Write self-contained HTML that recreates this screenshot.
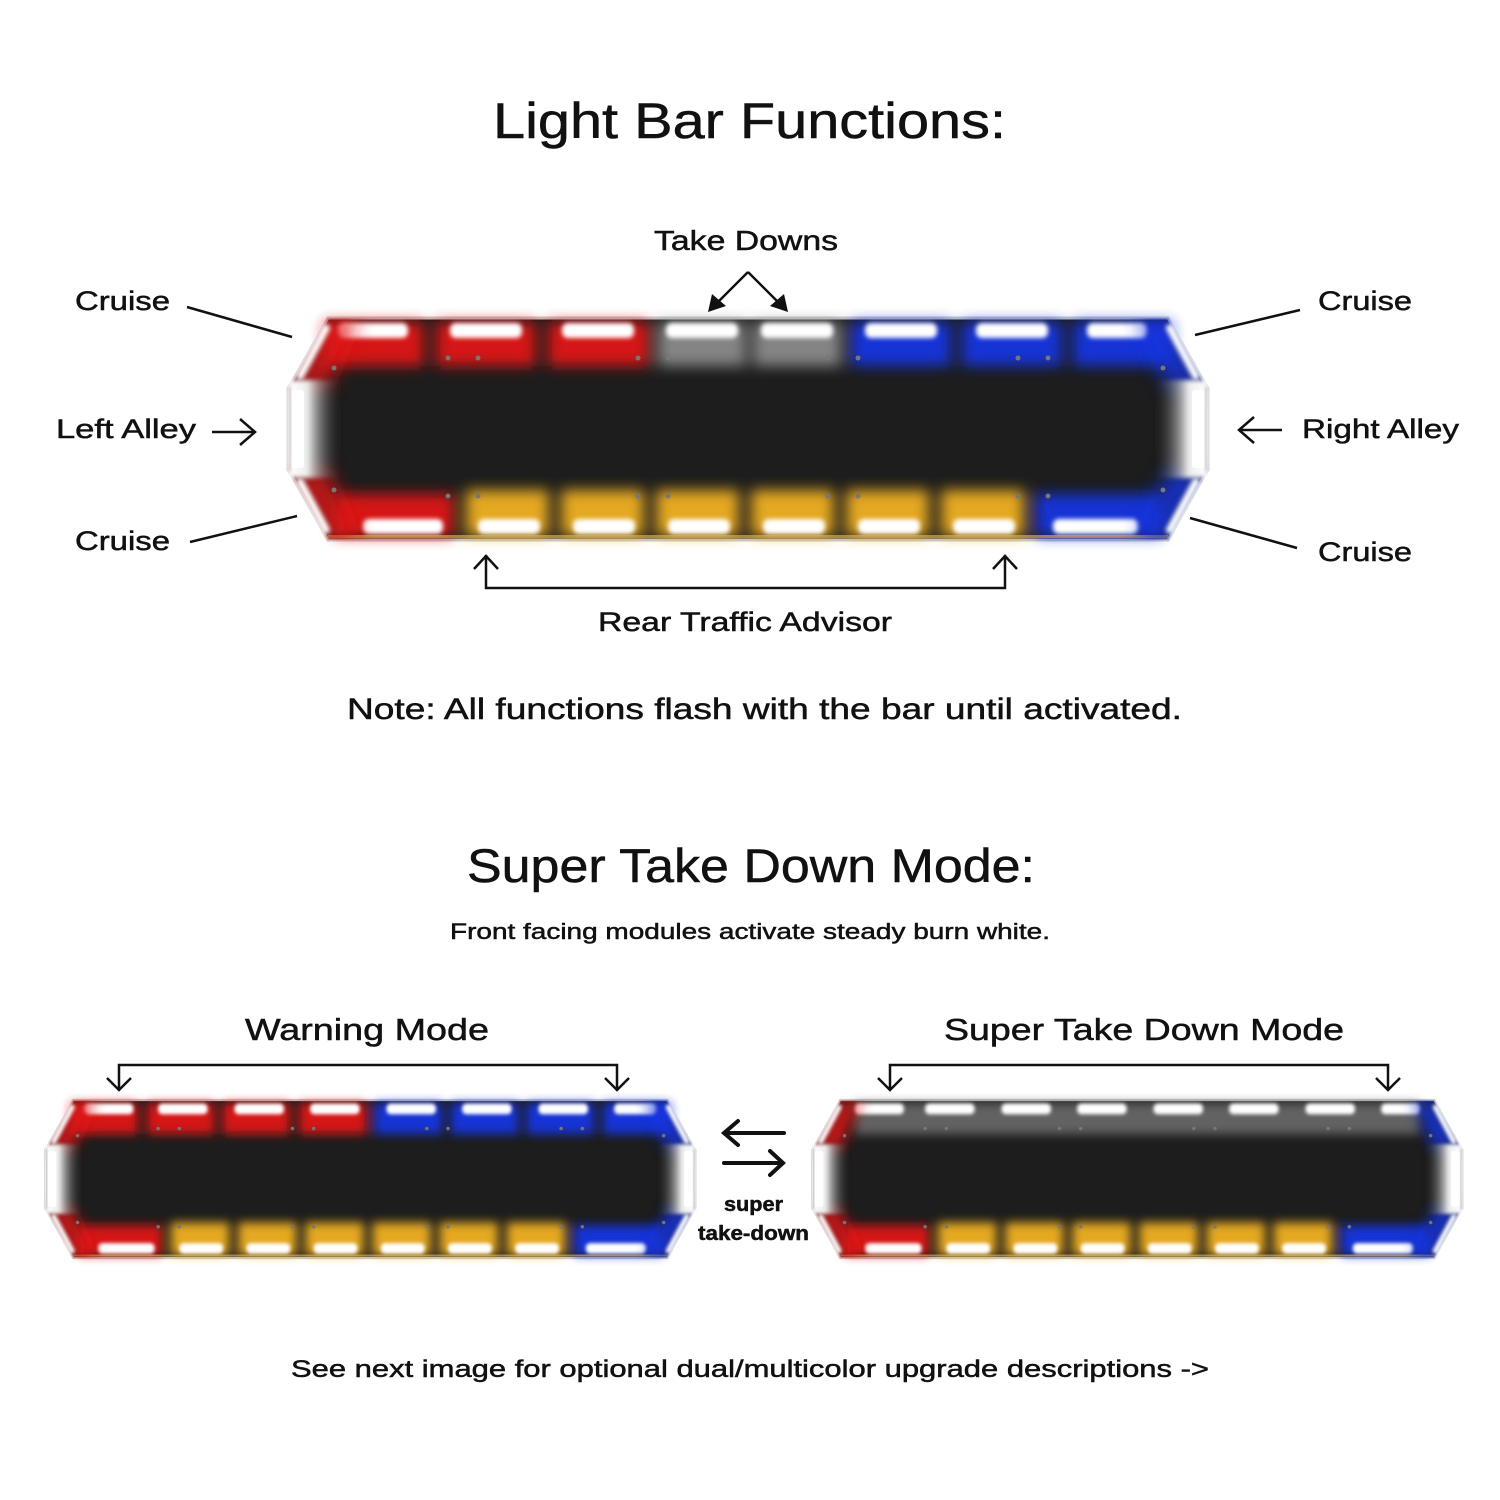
<!DOCTYPE html>
<html><head><meta charset="utf-8"><style>
html,body{margin:0;padding:0;background:#fff;}
svg{display:block;}
text{font-family:"Liberation Sans",sans-serif;fill:#111;stroke:#111;stroke-width:0.5;}
</style></head><body>
<svg width="1500" height="1500" viewBox="0 0 1500 1500" xmlns="http://www.w3.org/2000/svg">
<defs>
<filter id="b7" x="-50%" y="-50%" width="200%" height="200%"><feGaussianBlur stdDeviation="7"/></filter>
<filter id="b3" x="-50%" y="-50%" width="200%" height="200%"><feGaussianBlur stdDeviation="2.5"/></filter>
<filter id="b12" x="-50%" y="-50%" width="200%" height="200%"><feGaussianBlur stdDeviation="10"/></filter>
<linearGradient id="endL" x1="0" x2="1"><stop offset="0" stop-color="#fff"/><stop offset="0.35" stop-color="#eee"/><stop offset="1" stop-color="#1c1c1c" stop-opacity="0"/></linearGradient>
<linearGradient id="endR" x1="1" x2="0"><stop offset="0" stop-color="#fff"/><stop offset="0.35" stop-color="#eee"/><stop offset="1" stop-color="#1c1c1c" stop-opacity="0"/></linearGradient>
<clipPath id="oct"><polygon points="40,0 880,0 915,62 920,70 920,152 915,160 880,222 40,222 5,160 0,152 0,70 5,62"/></clipPath>
<g id="body">
<polygon points="40,0 880,0 915,62 920,70 920,152 915,160 880,222 40,222 5,160 0,152 0,70 5,62" fill="#1d1d1d" stroke="#c8c8c8" stroke-width="3"/>
</g>
<g id="ends">
<rect x="0" y="62" width="55" height="98" fill="url(#endL)" filter="url(#b3)"/>
<rect x="865" y="62" width="55" height="98" fill="url(#endR)" filter="url(#b3)"/>
<rect x="4" y="72" width="12" height="78" rx="3" fill="#fff"/>
<rect x="904" y="72" width="12" height="78" rx="3" fill="#fff"/>
<g fill="#777"><circle cx="46" cy="50" r="2.5"/><circle cx="46" cy="172" r="2.5"/><circle cx="875" cy="50" r="2.5"/><circle cx="875" cy="172" r="2.5"/>
<circle cx="160" cy="40" r="2.5"/><circle cx="190" cy="40" r="2.5"/><circle cx="350" cy="40" r="2.5"/><circle cx="380" cy="40" r="2.5"/><circle cx="540" cy="40" r="2.5"/><circle cx="570" cy="40" r="2.5"/><circle cx="730" cy="40" r="2.5"/><circle cx="760" cy="40" r="2.5"/>
<circle cx="160" cy="178" r="2.5"/><circle cx="190" cy="178" r="2.5"/><circle cx="350" cy="178" r="2.5"/><circle cx="380" cy="178" r="2.5"/><circle cx="540" cy="178" r="2.5"/><circle cx="570" cy="178" r="2.5"/><circle cx="730" cy="178" r="2.5"/><circle cx="760" cy="178" r="2.5"/></g>
</g>
<g id="corners">
<g clip-path="url(#oct)" opacity="0.85">
<polygon points="40,0 70,0 40,70 0,70" fill="#e01515" filter="url(#b12)"/>
<polygon points="40,222 70,222 40,152 0,152" fill="#e01515" filter="url(#b12)"/>
<polygon points="880,0 850,0 880,70 920,70" fill="#1535e0" filter="url(#b12)"/>
<polygon points="880,222 850,222 880,152 920,152" fill="#1535e0" filter="url(#b12)"/>
</g>
<line x1="38" y1="10" x2="12" y2="58" stroke="#fff" stroke-width="8" stroke-linecap="round" filter="url(#b3)"/>
<line x1="38" y1="212" x2="12" y2="164" stroke="#fff" stroke-width="8" stroke-linecap="round" filter="url(#b3)"/>
<line x1="882" y1="10" x2="908" y2="58" stroke="#fff" stroke-width="8" stroke-linecap="round" filter="url(#b3)"/>
<line x1="882" y1="212" x2="908" y2="164" stroke="#fff" stroke-width="8" stroke-linecap="round" filter="url(#b3)"/>
</g>
<g id="bottomRow">
<g filter="url(#b7)" opacity="0.95">
<rect x="46" y="176" width="120" height="42" fill="#e01515"/>
<rect x="178" y="172" width="83" height="46" fill="#f0b020"/><rect x="273" y="172" width="83" height="46" fill="#f0b020"/><rect x="368" y="172" width="83" height="46" fill="#f0b020"/><rect x="463" y="172" width="83" height="46" fill="#f0b020"/><rect x="558" y="172" width="83" height="46" fill="#f0b020"/><rect x="653" y="172" width="83" height="46" fill="#f0b020"/>
<rect x="748" y="176" width="126" height="42" fill="#1535e0"/>
</g>
<g fill="#fff" filter="url(#b3)">
<rect x="75" y="201" width="80" height="15" rx="6"/>
<rect x="190" y="201" width="62" height="15" rx="6"/><rect x="285" y="201" width="62" height="15" rx="6"/><rect x="380" y="201" width="62" height="15" rx="6"/><rect x="475" y="201" width="62" height="15" rx="6"/><rect x="570" y="201" width="62" height="15" rx="6"/><rect x="665" y="201" width="62" height="15" rx="6"/>
<rect x="765" y="201" width="85" height="15" rx="6"/>
</g>
<rect x="40" y="217" width="840" height="3" fill="#e8c060" opacity="0.6"/>
</g>
</defs>

<text x="493" y="138" font-size="50" textLength="513" lengthAdjust="spacingAndGlyphs">Light Bar Functions:</text>

<!-- main bar -->
<g transform="translate(288,318)">
<use href="#body"/>
<g filter="url(#b7)" opacity="0.95">
<rect x="36" y="4" width="100" height="44" fill="#e01515"/><rect x="148" y="4" width="100" height="44" fill="#e01515"/><rect x="260" y="4" width="101" height="44" fill="#e01515"/>
<rect x="370" y="4" width="88" height="44" fill="#8a8a8a"/><rect x="465" y="4" width="88" height="44" fill="#8a8a8a"/>
<rect x="563" y="4" width="100" height="44" fill="#1535e0"/><rect x="674" y="4" width="100" height="44" fill="#1535e0"/><rect x="785" y="4" width="99" height="44" fill="#1535e0"/>
</g>
<g fill="#fff" filter="url(#b3)">
<rect x="50" y="5" width="70" height="15" rx="6"/><rect x="162" y="5" width="72" height="15" rx="6"/><rect x="274" y="5" width="72" height="15" rx="6"/>
<rect x="378" y="5" width="72" height="15" rx="6"/><rect x="473" y="5" width="72" height="15" rx="6"/>
<rect x="577" y="5" width="72" height="15" rx="6"/><rect x="688" y="5" width="72" height="15" rx="6"/><rect x="799" y="5" width="60" height="15" rx="6"/>
</g>
<use href="#bottomRow"/>
<use href="#corners"/>
<use href="#ends"/>
</g>

<g stroke="#111" stroke-width="2.5" fill="none">
<line x1="187" y1="307" x2="292" y2="337"/>
<line x1="1195" y1="335" x2="1300" y2="310"/>
<line x1="190" y1="542" x2="297" y2="516"/>
<line x1="1190" y1="518" x2="1297" y2="548"/>
<path d="M212 432 H254 M240 419 L255 432 L240 445"/>
<path d="M1282 430 H1240 M1254 417 L1239 430 L1254 443"/>
<path d="M486 555 V588 H1005 V555 M474 569 L486 556 L498 569 M993 569 L1005 556 L1017 569"/>
<path d="M748 272 L712 308 M748 272 L784 308"/>
<path d="M119 1090 V1065 H617 V1090 M107 1078 L119 1090 L131 1078 M605 1078 L617 1090 L629 1078"/>
<path d="M890 1090 V1065 H1388 V1090 M878 1078 L890 1090 L902 1078 M1376 1078 L1388 1090 L1400 1078"/>
</g>
<g fill="#111">
<polygon points="708,312 712,294 726,306"/>
<polygon points="788,312 784,294 770,306"/>
</g>
<g stroke="#111" stroke-width="4" fill="none" stroke-linecap="round">
<path d="M724 1133 H784 M738 1121 L724 1133 L738 1145"/>
<path d="M724 1163 H782 M770 1151 L783 1163 L770 1175"/>
</g>

<text x="654" y="250" font-size="28" textLength="184" lengthAdjust="spacingAndGlyphs">Take Downs</text>
<text x="75" y="310" font-size="27" textLength="95" lengthAdjust="spacingAndGlyphs">Cruise</text>
<text x="1318" y="310" font-size="27" textLength="94" lengthAdjust="spacingAndGlyphs">Cruise</text>
<text x="56" y="438" font-size="27" textLength="140" lengthAdjust="spacingAndGlyphs">Left Alley</text>
<text x="1302" y="438" font-size="27" textLength="157" lengthAdjust="spacingAndGlyphs">Right Alley</text>
<text x="75" y="550" font-size="27" textLength="95" lengthAdjust="spacingAndGlyphs">Cruise</text>
<text x="1318" y="561" font-size="27" textLength="94" lengthAdjust="spacingAndGlyphs">Cruise</text>
<text x="598" y="631" font-size="27" textLength="294" lengthAdjust="spacingAndGlyphs">Rear Traffic Advisor</text>
<text x="347" y="719" font-size="30" textLength="835" lengthAdjust="spacingAndGlyphs">Note: All functions flash with the bar until activated.</text>
<text x="467" y="882" font-size="47" textLength="568" lengthAdjust="spacingAndGlyphs">Super Take Down Mode:</text>
<text x="450" y="939" font-size="22" textLength="600" lengthAdjust="spacingAndGlyphs">Front facing modules activate steady burn white.</text>
<text x="245" y="1040" font-size="31" textLength="244" lengthAdjust="spacingAndGlyphs">Warning Mode</text>
<text x="944" y="1040" font-size="31" textLength="400" lengthAdjust="spacingAndGlyphs">Super Take Down Mode</text>
<text x="724" y="1211" font-size="20" font-weight="bold" textLength="59" lengthAdjust="spacingAndGlyphs" stroke-width="0">super</text>
<text x="698" y="1240" font-size="20" font-weight="bold" textLength="111" lengthAdjust="spacingAndGlyphs" stroke-width="0">take-down</text>
<text x="291" y="1377" font-size="24" textLength="918" lengthAdjust="spacingAndGlyphs">See next image for optional dual/multicolor upgrade descriptions -&gt;</text>

<!-- warning mode bar -->
<g transform="translate(45,1100) scale(0.707,0.712)">
<use href="#body"/>
<g filter="url(#b7)" opacity="0.95">
<rect x="36" y="4" width="96" height="44" fill="#e01515"/><rect x="144" y="4" width="96" height="44" fill="#e01515"/><rect x="251" y="4" width="96" height="44" fill="#e01515"/><rect x="359" y="4" width="96" height="44" fill="#e01515"/>
<rect x="466" y="4" width="96" height="44" fill="#1535e0"/><rect x="574" y="4" width="96" height="44" fill="#1535e0"/><rect x="681" y="4" width="96" height="44" fill="#1535e0"/><rect x="789" y="4" width="96" height="44" fill="#1535e0"/>
</g>
<g fill="#fff" filter="url(#b3)">
<rect x="55" y="5" width="70" height="15" rx="6"/><rect x="160" y="5" width="70" height="15" rx="6"/><rect x="268" y="5" width="70" height="15" rx="6"/><rect x="375" y="5" width="70" height="15" rx="6"/>
<rect x="483" y="5" width="70" height="15" rx="6"/><rect x="590" y="5" width="70" height="15" rx="6"/><rect x="698" y="5" width="70" height="15" rx="6"/><rect x="805" y="5" width="60" height="15" rx="6"/>
</g>
<use href="#bottomRow"/>
<use href="#corners"/>
<use href="#ends"/>
</g>

<!-- super take down bar -->
<g transform="translate(812,1100) scale(0.707,0.712)">
<use href="#body"/>
<g filter="url(#b7)" opacity="0.9">
<rect x="60" y="4" width="800" height="44" fill="#6a6a6a"/>
</g>
<g fill="#fff" filter="url(#b3)">
<rect x="60" y="5" width="70" height="15" rx="6"/><rect x="160" y="5" width="70" height="15" rx="6"/><rect x="268" y="5" width="70" height="15" rx="6"/><rect x="375" y="5" width="70" height="15" rx="6"/>
<rect x="483" y="5" width="70" height="15" rx="6"/><rect x="590" y="5" width="70" height="15" rx="6"/><rect x="698" y="5" width="70" height="15" rx="6"/><rect x="805" y="5" width="55" height="15" rx="6"/>
</g>
<use href="#bottomRow"/>
<use href="#corners"/>
<use href="#ends"/>
</g>
</svg>
</body></html>
